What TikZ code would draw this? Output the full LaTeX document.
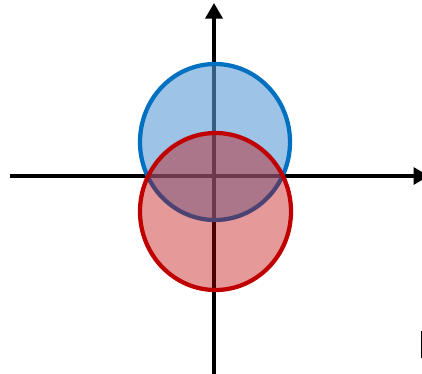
\documentclass[tikz,border=0pt]{standalone}
\usepackage{tikz}
\usetikzlibrary{arrows.meta}

\definecolor{ringblue}{HTML}{0070C0}
\definecolor{fillblue}{HTML}{5B9BD5}
\definecolor{ringred}{HTML}{C00000}

\tikzset{
    axis/.style={line width=0.065cm, -{Triangle[length=0.31cm, width=0.34cm]}},
    upper disc/.style={draw=ringblue, line width=0.085cm, fill=fillblue, fill opacity=0.6},
    lower disc/.style={draw=ringred, line width=0.085cm, fill=ringred, fill opacity=0.4}
}

\begin{document}
\begin{tikzpicture}[x=0.02cm, y=-0.02cm]
    \useasboundingbox (0,0) rectangle (422,373);
    \clip (0,0) rectangle (422,373);

    % Trục tọa độ
    \coordinate (O) at (214,176);
    \coordinate (xleft) at (10,176);
    \coordinate (xright) at (429,176);
    \coordinate (ybot) at (214,380);
    \coordinate (ytop) at (214,3);
    \draw[axis] (xleft) -- (xright);
    \draw[axis] (ybot) -- (ytop);

    % Hai hình tròn
    \coordinate (cblue) at (215,142);
    \coordinate (cred) at (215.5,211.5);
    \draw[upper disc] (cblue) ellipse [x radius=75, y radius=78];
    \draw[lower disc] (cred) ellipse [x radius=75.5, y radius=78.5];

    % Mảnh bị cắt ở góc
    \draw[line width=0.04cm] (421.5,331) -- (421.5,358);
\end{tikzpicture}
\end{document}
